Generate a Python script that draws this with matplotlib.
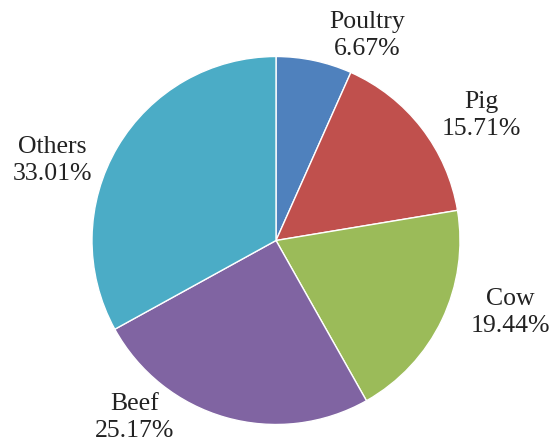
import matplotlib.pyplot as plt

categories = ["Poultry", "Pig", "Cow", "Beef", "Others"]
shares = [6.67, 15.71, 19.44, 25.17, 33.01]

colors = ["#4F81BD", "#C0504D", "#9BBB59", "#8064A2", "#4BACC6"]
# label anchors in pie-radius units
label_pos = [(0.495, 1.114), (1.114, 0.679), (1.272, -0.391),
             (-0.766, -0.962), (-1.217, 0.435)]

plt.rcParams['font.family'] = ['Liberation Serif', 'DejaVu Serif']

W, H = 553, 443
cx, cy, R = 276, 240.5, 184
fig = plt.figure(figsize=(W / 100, H / 100), dpi=100)
ax = fig.add_axes([(cx - R) / W, (H - cy - R) / H, 2 * R / W, 2 * R / H])

ax.pie(shares, colors=colors, startangle=90, counterclock=False, radius=1,
       wedgeprops=dict(edgecolor="white", linewidth=1))

for name, val, (x, y) in zip(categories, shares, label_pos):
    ax.text(x, y, f"{name}\n{val:.2f}%", ha="center", va="center",
            fontsize=18.5, color="#222222", linespacing=1.25)

ax.set_xlim(-1, 1)
ax.set_ylim(-1, 1)
ax.set_aspect("equal")
ax.axis("off")

fig.savefig("out.png", dpi=100)
